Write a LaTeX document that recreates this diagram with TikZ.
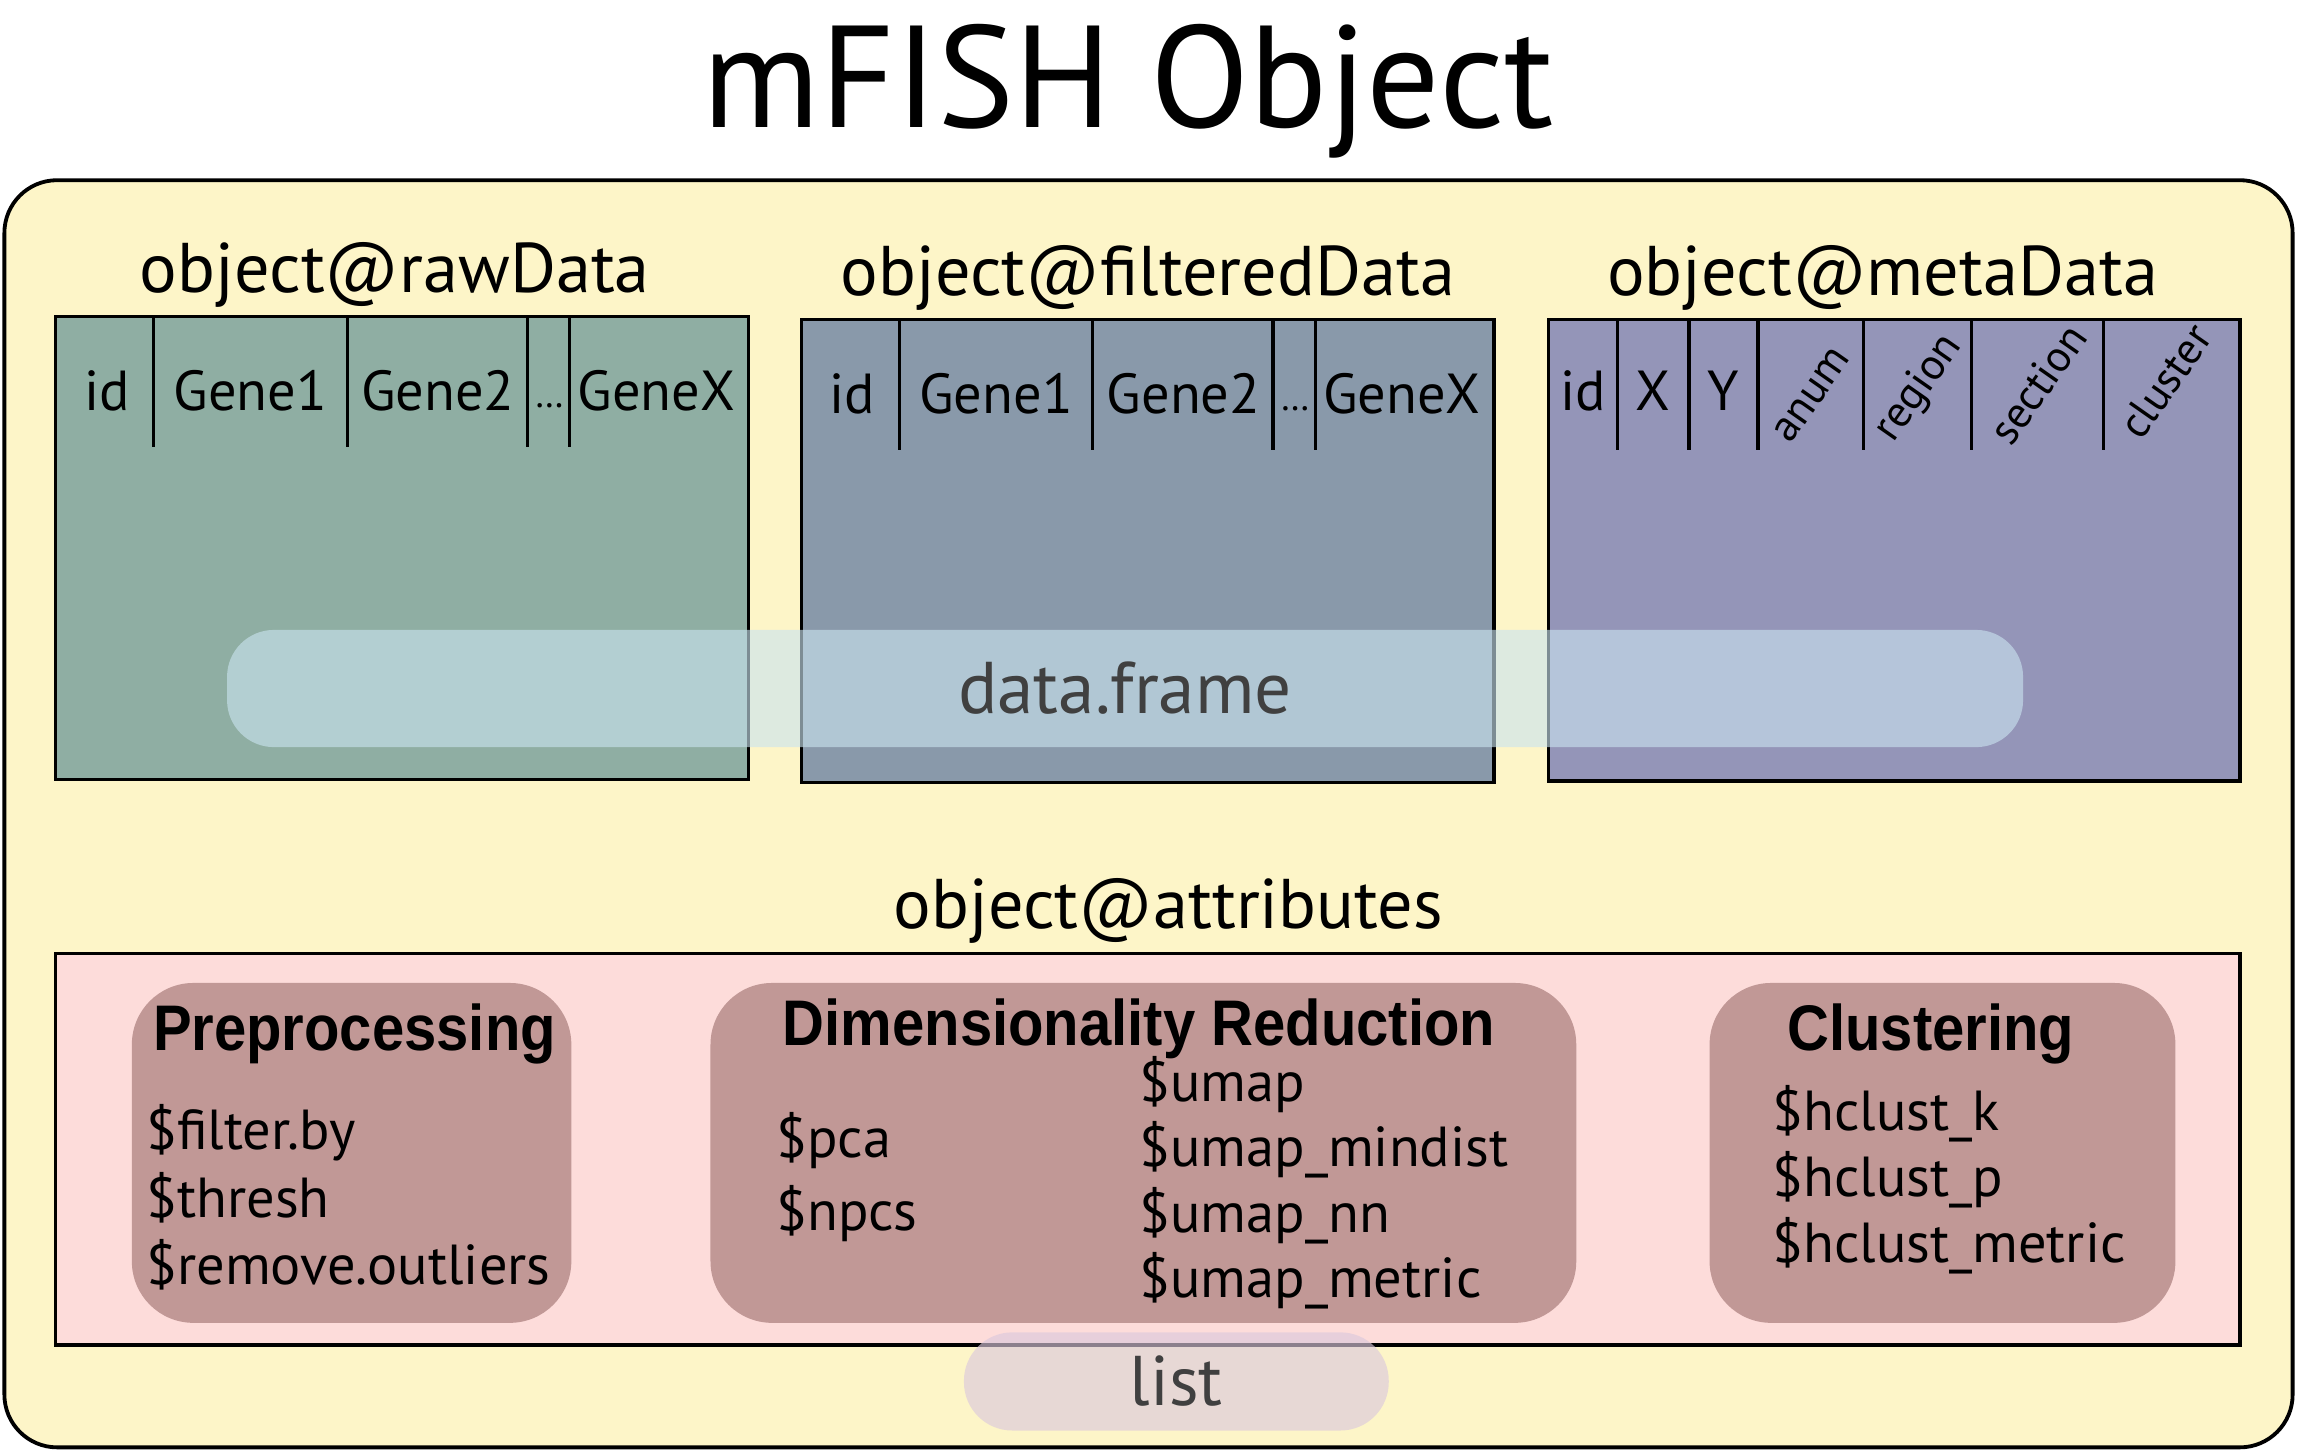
\documentclass[tikz,border=0pt]{standalone}
\usepackage{fontspec}
\setmainfont{PT Sans}
\newfontfamily\headfont{Liberation Sans}[FakeStretch=0.9]
\usepackage{xcolor}
\usepackage{tikz}
\usetikzlibrary{positioning, calc}

\definecolor{objfill}{HTML}{FDF5C8}
\definecolor{rawfill}{HTML}{8FAEA3}
\definecolor{filtfill}{HTML}{8999AA}
\definecolor{metafill}{HTML}{9495B8}
\definecolor{attrfill}{HTML}{FDDCDA}
\definecolor{groupfill}{HTML}{C19896}
\definecolor{dffill}{RGB}{202,228,239}
\definecolor{listfill}{RGB}{220,201,221}
\definecolor{tagtext}{HTML}{404040}

\begin{document}
\begin{tikzpicture}[
    x=1pt, y=-1pt,
    every node/.style={align=center, inner sep=0pt, outer sep=0pt},
    slot/.style={rectangle, draw, line width=2.4pt, anchor=north west},
    group/.style={rectangle, rounded corners=42pt, fill=groupfill, anchor=north west},
    tag/.style={rectangle, fill opacity=0.62, text opacity=1, text=tagtext},
    heading/.style={font=\fontsize{48}{52}\selectfont},
    colname/.style={font=\fontsize{38.5}{40}\selectfont, anchor=base},
    item/.style={font=\fontsize{38.5}{42}\selectfont, anchor=base west},
    grouptitle/.style={font=\headfont\bfseries\fontsize{44}{48}\selectfont, anchor=base}
]
    \useasboundingbox (0,0) rectangle (1568,990);

    % the object itself
    \node[rectangle, draw, line width=2.6pt, rounded corners=36pt, fill=objfill, anchor=north west,
          minimum width=1562pt, minimum height=865pt] (obj) at (3,123) {};
    \node[font=\fontsize{99}{100}\selectfont, above=15pt of obj, xshift=-14pt] (title) {mFISH Object};

    % data slots
    \node[slot, fill=rawfill, minimum width=473pt, minimum height=316pt] (raw) at (38,216) {};
    \node[slot, fill=filtfill, minimum width=473pt, minimum height=316pt] (filt) at (547,218) {};
    \node[slot, fill=metafill, minimum width=472pt, minimum height=315pt] (meta) at (1057,218) {};

    \node[heading, above=6pt of raw, xshift=-5pt] (rawlab) {object@rawData};
    \node[heading, above=6pt of filt] (filtlab) {object@filteredData};
    \node[heading, above=6pt of meta, xshift=-8pt] (metalab) {object@metaData};

    % column headers
    \foreach \slotname in {raw, filt} {
        \foreach \cx in {67, 199, 322, 351}
            \draw[line width=2.2pt] (\slotname.north west) ++(\cx,0) -- ++(0,89);
        \foreach \cx/\cname in {35/id, 133/Gene1, 261/Gene2, 410/GeneX}
            \node[colname] at ($(\slotname.north west)+(\cx,64)$) {\cname};
        \node[colname, font=\fontsize{26}{30}\selectfont] at ($(\slotname.north west)+(337,62)$) {\dots};
    }
    \foreach \cx in {47, 96, 143, 215, 289, 379}
        \draw[line width=2.2pt] (meta.north west) ++(\cx,0) -- ++(0,89);
    \foreach \cx/\cname in {24/id, 71/X, 119/Y}
        \node[colname] at ($(meta.north west)+(\cx,62)$) {\cname};
    \foreach \cx/\cy/\cname in {180/52/anum, 253/47/region, 334/44/section, 421/42/cluster}
        \node[font=\fontsize{30}{34}\selectfont, rotate=55] at ($(meta.north west)+(\cx,\cy)$) {\cname};

    \node[tag, fill=dffill, rounded corners=32pt, minimum width=1226pt, minimum height=80pt,
          font=\fontsize{50}{54}\selectfont] (df) at (768,470) {data.frame};

    % attributes
    \node[slot, fill=attrfill, minimum width=1491pt, minimum height=267pt] (attr) at (38,651) {};
    \node[heading, above=7pt of attr, xshift=14pt] (attrlab) {object@attributes};

    \node[group, minimum width=300pt, minimum height=232pt] (pre) at (90,671) {};
    \node[group, minimum width=591pt, minimum height=232pt] (dim) at (485,671) {};
    \node[group, minimum width=318pt, minimum height=232pt] (clust) at (1167,671) {};

    \node[grouptitle] (pretitle) at ($(pre.north)+(2,46)$) {Preprocessing};
    \node[grouptitle] (dimtitle) at ($(dim.north)+(-3,43)$) {Dimensionality Reduction};
    \node[grouptitle] (clusttitle) at ($(clust.north)+(-8,46)$) {Clustering};

    \foreach \txt [count=\i] in {\$filter.by, \$thresh, \$remove.outliers}
        \node[item] (pre\i) at ($(pre.north west)+(10,114+46*\i-46)$) {\txt};
    \foreach \txt [count=\i] in {\$pca, \$npcs}
        \node[item] (pc\i) at ($(dim.north west)+(45,119+50*\i-50)$) {\txt};
    \foreach \txt [count=\i] in {\$umap, \$umap\_mindist, \$umap\_nn, \$umap\_metric}
        \node[item] (um\i) at ($(dim.north west)+(293,81+44.5*\i-44.5)$) {\txt};
    \foreach \txt [count=\i] in {\$hclust\_k, \$hclust\_p, \$hclust\_metric}
        \node[item] (hc\i) at ($(clust.north west)+(43,101+45*\i-45)$) {\txt};

    \node[tag, fill=listfill, fill opacity=0.64, rounded corners=33pt, minimum width=290pt, minimum height=67pt,
          font=\fontsize{48}{50}\selectfont] (list) at (803,943) {list};
\end{tikzpicture}
\end{document}
